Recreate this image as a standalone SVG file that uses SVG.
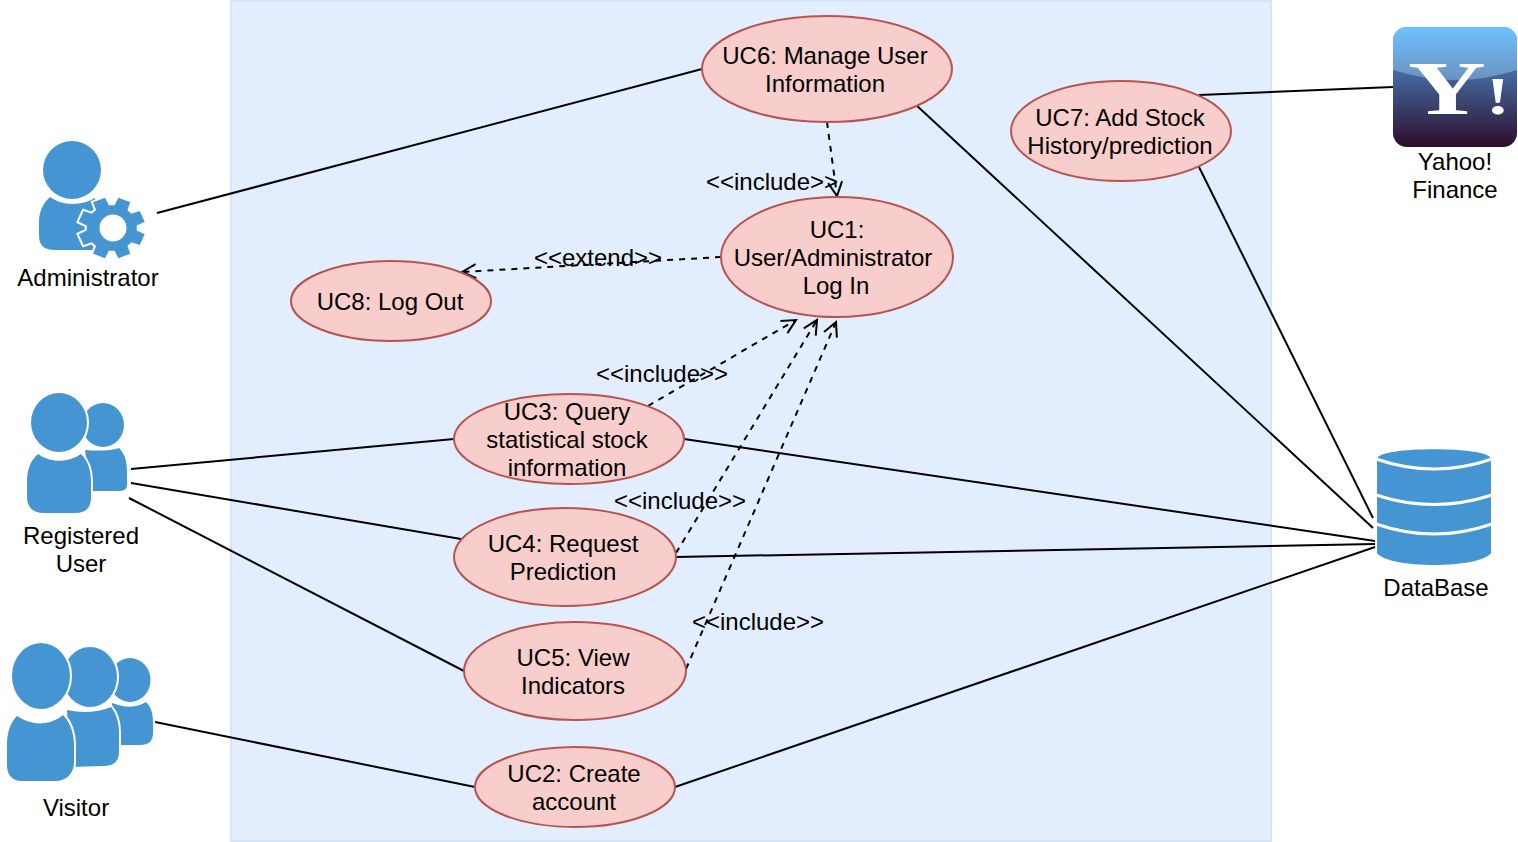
<svg xmlns="http://www.w3.org/2000/svg" width="1518" height="842" viewBox="0 0 1518 842">
<style>
text{font-family:"Liberation Sans",Arial,sans-serif;font-size:24px;fill:#000;text-anchor:middle}
.uc{fill:#f8cecc;stroke:#b85450;stroke-width:2}
.s{fill:none;stroke:#000;stroke-width:2}
.d{fill:none;stroke:#000;stroke-width:2;stroke-dasharray:6 6;marker-end:url(#a)}
.i{fill:#4495d1}
.h{fill:#4495d1;stroke:#fff;stroke-width:4;paint-order:stroke}
.w{fill:none;stroke:#fff;stroke-width:3}
</style>
<defs>
<marker id="a" markerUnits="userSpaceOnUse" markerWidth="20" markerHeight="20" refX="15" refY="8" orient="auto"><path d="M1 1L15 8L1 15" fill="none" stroke="#000" stroke-width="2"/></marker>
<linearGradient id="y" x1="0" y1="0" x2="0" y2="1"><stop offset="0" stop-color="#4a7fb8"/><stop offset=".35" stop-color="#456fa6"/><stop offset="1" stop-color="#2e0c2a"/></linearGradient>
<linearGradient id="y2" x1="0" y1="0" x2="0" y2="1"><stop offset="0" stop-color="#70c0ff"/><stop offset="1" stop-color="#6a92c0"/></linearGradient>
</defs>
<rect x="231" y="1" width="1040" height="840" fill="#e2eefe" stroke="#d3e4fb" stroke-width="2"/>
<g id="connectors">
<path class="s" d="M157 213L702 69"/>
<path class="s" d="M131 469L454 439"/>
<path class="s" d="M131 483L461 539"/>
<path class="s" d="M129 498L464 671"/>
<path class="s" d="M155 722L475 787"/>
<path class="s" d="M915 104L1373 528"/>
<path class="s" d="M1199 167L1373 518"/>
<path class="s" d="M684 439L1375 541"/>
<path class="s" d="M676 557L1375 544"/>
<path class="s" d="M675 787L1375 547"/>
<path class="s" d="M1199 95L1393 87"/>
<path class="d" d="M827 122L837 196"/>
<path class="d" d="M721 257L462 272"/>
<path class="d" d="M648 406L796 320"/>
<path class="d" d="M676 553L817 320"/>
<path class="d" d="M686 669L836 322"/>
</g>
<g id="uc6"><ellipse class="uc" cx="827" cy="69" rx="125" ry="53"/><text x="825" y="64">UC6: Manage User</text><text x="825" y="92">Information</text></g>
<g id="uc7"><ellipse class="uc" cx="1121" cy="131" rx="110" ry="50"/><text x="1120" y="126">UC7: Add Stock</text><text x="1120" y="154">History/prediction</text></g>
<g id="uc1"><ellipse class="uc" cx="837" cy="257" rx="116" ry="60"/><text x="837" y="238">UC1:</text><text x="833" y="266">User/Administrator</text><text x="836" y="294">Log In</text></g>
<g id="uc8"><ellipse class="uc" cx="391" cy="301" rx="100" ry="40"/><text x="390" y="310">UC8: Log Out</text></g>
<g id="uc3"><ellipse class="uc" cx="569" cy="439" rx="115" ry="45"/><text x="567" y="420">UC3: Query</text><text x="567" y="448">statistical stock</text><text x="567" y="476">information</text></g>
<g id="uc4"><ellipse class="uc" cx="565" cy="557" rx="111" ry="49"/><text x="563" y="552">UC4: Request</text><text x="563" y="580">Prediction</text></g>
<g id="uc5"><ellipse class="uc" cx="575" cy="671" rx="111" ry="49"/><text x="573" y="666">UC5: View</text><text x="573" y="694">Indicators</text></g>
<g id="uc2"><ellipse class="uc" cx="575" cy="787" rx="100" ry="40"/><text x="574" y="782">UC2: Create</text><text x="574" y="810">account</text></g>
<g id="labels">
<text x="772" y="190">&lt;&lt;include&gt;&gt;</text>
<text x="598" y="266">&lt;&lt;extend&gt;&gt;</text>
<text x="662" y="382">&lt;&lt;include&gt;&gt;</text>
<text x="680" y="509">&lt;&lt;include&gt;&gt;</text>
<text x="758" y="630">&lt;&lt;include&gt;&gt;</text>
</g>
<g id="administrator">
<circle class="i" cx="72" cy="170" r="29"/>
<path class="i" d="M50 197C62 206 82 206 95 198L100 250H55C45 250 39 246 39 236V222C39 212 43 203 50 197Z"/>
<path class="h" fill-rule="evenodd" transform="translate(111.700 228) scale(1.05 .96)" d="M23.800 2.700L31.400 6.400L26.700 17.700L18.800 14.900L14.900 18.800L17.700 26.700L6.400 31.400L2.700 23.800L-2.700 23.800L-6.400 31.400L-17.700 26.700L-14.900 18.800L-18.800 14.900L-26.700 17.700L-31.400 6.400L-23.800 2.700L-23.800 -2.700L-31.400 -6.400L-26.700 -17.700L-18.800 -14.900L-14.900 -18.800L-17.700 -26.700L-6.400 -31.400L-2.700 -23.800L2.700 -23.800L6.400 -31.400L17.700 -26.700L14.900 -18.800L18.800 -14.900L26.700 -17.700L31.400 -6.400L23.800 -2.700Z"/>
<circle cx="113" cy="228" r="13.500" fill="#fff"/>
<text x="88" y="286">Administrator</text>
</g>
<g id="registered">
<ellipse class="i" cx="103" cy="425" rx="21" ry="22"/>
<path class="i" d="M85 450C98 451 110 451 119 448C125 454 127 462 127 472V484C127 490 124 491 118 491H90Z"/>
<ellipse class="h" cx="59" cy="422.500" rx="28" ry="29.500"/>
<path class="h" d="M38 454C50 463 68 463 81 454C88 461 91 470 91 482V497C91 508 86 513 75 513H44C33 513 27 507 27 497V482C27 470 30 461 38 454Z"/>
<text x="81" y="544">Registered</text><text x="81" y="572">User</text>
</g>
<g id="visitor">
<ellipse class="i" cx="130" cy="680" rx="20.500" ry="22"/>
<path class="i" d="M112 703C125 708 137 708 146 702C151 707 153 713 153 722V733C153 741 149 745 140 745H110Z"/>
<ellipse class="h" cx="90" cy="677" rx="27" ry="30"/>
<path class="h" d="M67 710C81 713 97 713 111 707C116 713 119 722 119 732V752C119 762 113 766 104 766L70 767Z"/>
<ellipse class="h" cx="41" cy="676" rx="29" ry="33"/>
<path class="h" d="M17 716C32 726 50 726 63 715C70 722 74 733 74 745V762C74 773 67 781 55 781H22C12 781 7 775 7 765V745C7 733 10 723 17 716Z"/>
<text x="76" y="816">Visitor</text>
</g>
<g id="yahoo">
<rect x="1393" y="27" width="124" height="120" rx="14" fill="url(#y)"/>
<path d="M1393 41A14 14 0 0 1 1407 27H1503A14 14 0 0 1 1517 41V70Q1455 90 1393 70Z" fill="url(#y2)"/>
<text transform="translate(1408 114) scale(1.4 1)" x="0" y="0" style="font-family:'Liberation Serif',serif;font-size:77px;font-weight:bold;fill:#fff;text-anchor:start">Y<tspan style="font-size:52px">!</tspan></text>
<text x="1455" y="170">Yahoo!</text><text x="1455" y="198">Finance</text>
</g>
<g id="database">
<path class="i" d="M1377 459C1377 446 1491 446 1491 459V553C1480 569 1388 569 1377 553Z"/>
<path class="w" d="M1376 459Q1434 479 1492 459"/>
<path class="w" d="M1376 495Q1434 514 1492 495"/>
<path class="w" d="M1376 524Q1434 544 1492 524"/>
<text x="1436" y="596">DataBase</text>
</g>
</svg>
